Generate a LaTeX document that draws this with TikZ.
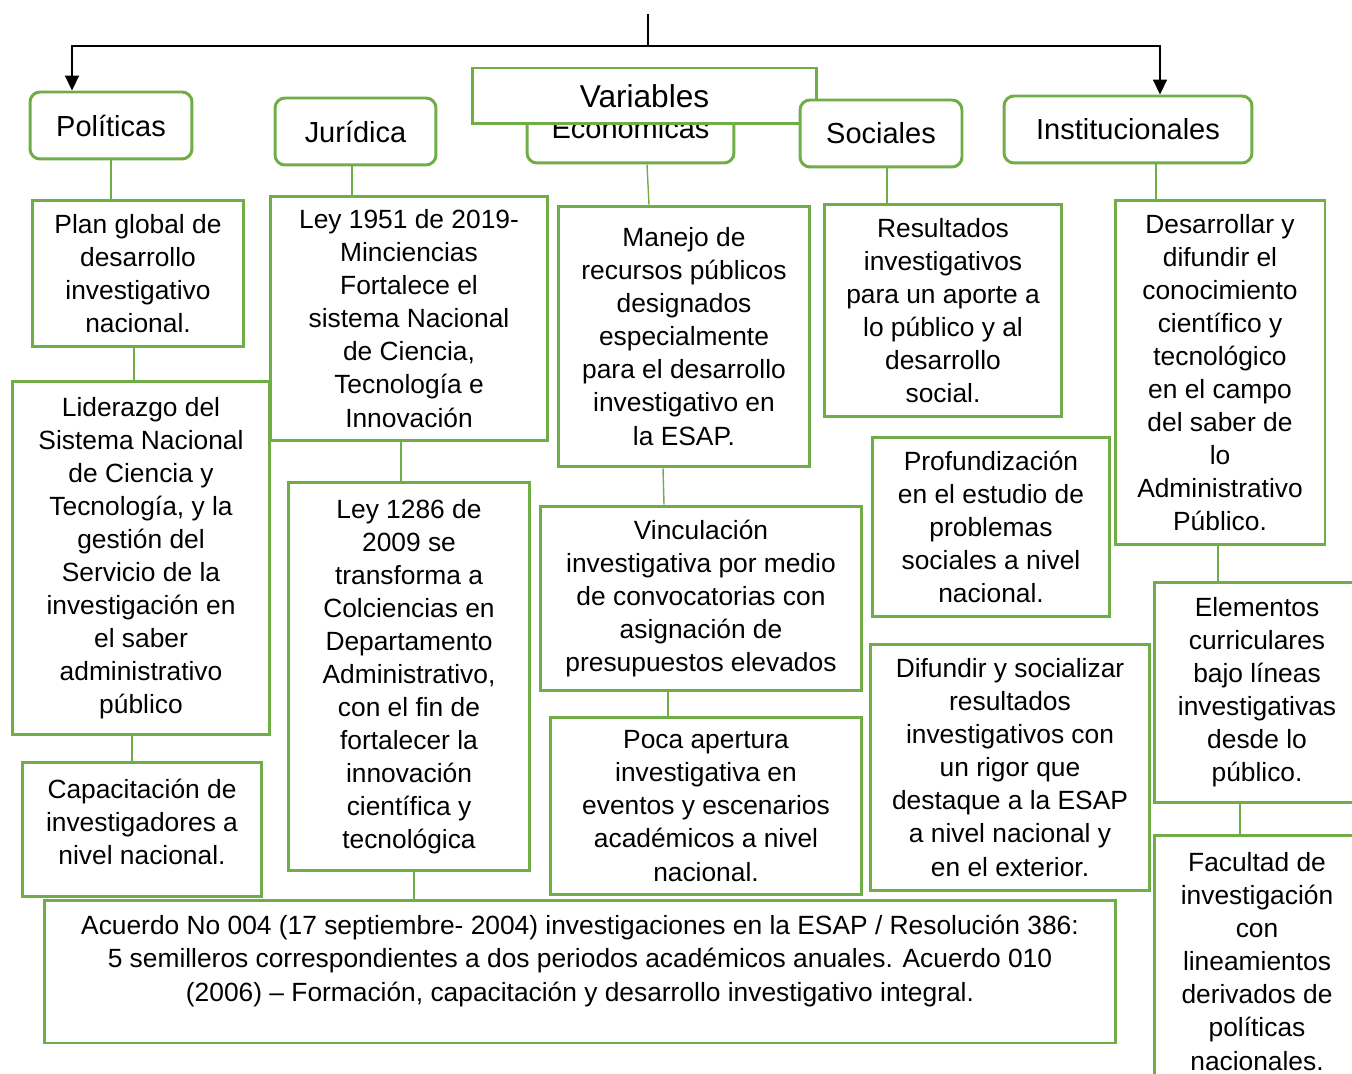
\documentclass[tikz,border=0pt]{standalone}
\usepackage{fontspec}
\setmainfont{Liberation Sans}
\usetikzlibrary{positioning}
\usetikzlibrary{arrows.meta}
\definecolor{boxgreen}{RGB}{112,173,71}
\tikzset{
    hdr/.style = {rectangle, rounded corners=0.2cm, line width=1.7pt, draw=boxgreen, fill=white, align=center, inner sep=0pt, font=\fontsize{16.5}{19}\selectfont, text=black},
    hdrv/.style = {rectangle, line width=1.7pt, draw=boxgreen, fill=white, align=center, inner sep=0pt, font=\fontsize{18}{21}\selectfont, text=black},
    boxg/.style = {rectangle, line width=1.7pt, draw=boxgreen, fill=white, align=center, inner sep=0pt, font=\fontsize{15}{18.8}\selectfont, text=black},
    txtg/.style = {align=center, inner sep=0pt, font=\fontsize{15}{18.8}\selectfont, text=black},
    edgeg/.style = {-, line width=0.8pt, boxgreen},
    edgen/.style = {-, line width=0.9pt, black},
    edgea/.style = {-{Triangle[width=8pt,length=8.5pt]}, line width=0.9pt, black}
}

\begin{document}
\begin{tikzpicture}[x=0.02cm, y=-0.02cm]
\clip (0,0) rectangle (1352,1074);
% headers
\node[hdr, minimum width=3.24cm, minimum height=1.34cm] at (111,125.5) (pol) {Políticas};
\node[hdr, minimum width=3.22cm, minimum height=1.34cm] at (355.5,131.5) (jur) {Jurídica};
\node[hdr, minimum width=4.14cm, minimum height=1.42cm] at (630.5,127.5) (eco) {Económicas};
\node[hdrv, minimum width=6.9cm, minimum height=1.12cm] at (644.5,96) (var) {Variables};
\node[hdr, minimum width=3.24cm, minimum height=1.34cm] at (881,133.5) (soc) {Sociales};
\node[hdr, minimum width=4.96cm, minimum height=1.34cm] at (1128,129.5) (ins) {Institucionales};
%
\node[boxg, minimum width=4.24cm, minimum height=2.94cm] at (138,273.5) (plan) {Plan global de\\desarrollo\\investigativo\\nacional.};
\node[boxg, minimum width=5.16cm, minimum height=7.08cm] at (141,558) (lid) {Liderazgo del\\Sistema Nacional\\de Ciencia y\\Tecnología, y la\\gestión del\\Servicio de la\\investigación en\\el saber\\administrativo\\público};
\node[boxg, minimum width=4.8cm, minimum height=2.7cm] at (142,829.5) (cap) {};
\node[txtg] at (142,822) (capt) {Capacitación de\\investigadores a\\nivel nacional.};
%
\node[boxg, minimum width=5.56cm, minimum height=4.9cm] at (409,318.5) (ley1) {Ley 1951 de 2019-\\Minciencias\\Fortalece el\\sistema Nacional\\de Ciencia,\\Tecnología e\\Innovación};
\node[boxg, minimum width=4.84cm, minimum height=7.78cm] at (409,676.5) (ley2) {Ley 1286 de\\2009 se\\transforma a\\Colciencias en\\Departamento\\Administrativo,\\con el fin de\\fortalecer la\\innovación\\científica y\\tecnológica};
%
\node[boxg, minimum width=5.04cm, minimum height=5.22cm] at (684,336.5) (man) {Manejo de\\recursos públicos\\designados\\especialmente\\para el desarrollo\\investigativo en\\la ESAP.};
\node[boxg, minimum width=6.44cm, minimum height=3.7cm] at (701,598.5) (vin) {Vinculación\\investigativa por medio\\de convocatorias con\\asignación de\\presupuestos elevados};
\node[boxg, minimum width=6.24cm, minimum height=3.54cm] at (706,806) (poc) {Poca apertura\\investigativa en\\eventos y escenarios\\académicos a nivel\\nacional.};
%
\node[boxg, minimum width=4.76cm, minimum height=4.26cm] at (943,310.5) (res) {Resultados\\investigativos\\para un aporte a\\lo público y al\\desarrollo\\social.};
\node[boxg, minimum width=4.76cm, minimum height=3.6cm] at (991,527) (pro) {Profundización\\en el estudio de\\problemas\\sociales a nivel\\nacional.};
\node[boxg, minimum width=5.6cm, minimum height=4.94cm] at (1010,767.5) (dif) {Difundir y socializar\\resultados\\investigativos con\\un rigor que\\destaque a la ESAP\\a nivel nacional y\\en el exterior.};
%
\node[boxg, minimum width=4.2cm, minimum height=6.9cm] at (1220,372.5) (des) {Desarrollar y\\difundir el\\conocimiento\\científico y\\tecnológico\\en el campo\\del saber de\\lo\\Administrativo\\Público.};
\node[boxg, minimum width=4.12cm, minimum height=4.42cm] at (1257,692.5) (ele) {Elementos\\curriculares\\bajo líneas\\investigativas\\desde lo\\público.};
\node[boxg, minimum width=4.12cm, minimum height=5.06cm] at (1257,961.5) (fac) {Facultad de\\investigación\\con\\lineamientos\\derivados de\\políticas\\nacionales.};
%
\node[boxg, minimum width=21.44cm, minimum height=2.86cm] at (580,971.5) (acu) {};
\node[txtg] at (580,961) (acut) {Acuerdo No 004 (17 septiembre- 2004) investigaciones en la ESAP / Resolución 386:\\5 semilleros correspondientes a dos periodos académicos anuales. Acuerdo 010\\(2006) – Formación, capacitación y desarrollo investigativo integral.};
% top
\coordinate (root) at (648,14);
\coordinate (hub) at (648,46);
\draw[edgen] (root) -- (hub);
\draw[edgea] (hub) -| ([xshift=-0.78cm]pol.north);
\draw[edgea] (hub) -| ([xshift=0.64cm]ins.north);
% links
\draw[edgeg] (pol.south) -- (pol.south |- plan.north);
\draw[edgeg] ([xshift=-0.08cm]plan.south) -- ([xshift=-0.08cm]plan.south |- lid.north);
\draw[edgeg] ([xshift=-0.18cm]lid.south) -- ([xshift=-0.18cm]lid.south |- cap.north);
\draw[edgeg] ([xshift=-0.07cm]jur.south) -- ([xshift=-0.07cm]jur.south |- ley1.north);
\draw[edgeg] ([xshift=-0.16cm]ley1.south) -- ([xshift=-0.16cm]ley1.south |- ley2.north);
\draw[edgeg] ([xshift=0.1cm]ley2.south) -- ([xshift=0.1cm]ley2.south |- acu.north);
\draw[edgeg] ([xshift=0.33cm]eco.south) -- ([xshift=0.37cm]eco.south |- man.north);
\draw[edgeg] ([xshift=-0.42cm]man.south) -- ([xshift=-0.4cm]man.south |- vin.north);
\draw[edgeg] ([xshift=-0.66cm]vin.south) -- ([xshift=-0.66cm]vin.south |- poc.north);
\draw[edgeg] ([xshift=0.12cm]soc.south) -- ([xshift=0.12cm]soc.south |- res.north);
\draw[edgeg] ([xshift=0.56cm]ins.south) -- ([xshift=0.56cm]ins.south |- des.north);
\draw[edgeg] ([xshift=-0.04cm]des.south) -- ([xshift=-0.04cm]des.south |- ele.north);
\draw[edgeg] ([xshift=-0.34cm]ele.south) -- ([xshift=-0.34cm]ele.south |- fac.north);
\end{tikzpicture}
\end{document}
